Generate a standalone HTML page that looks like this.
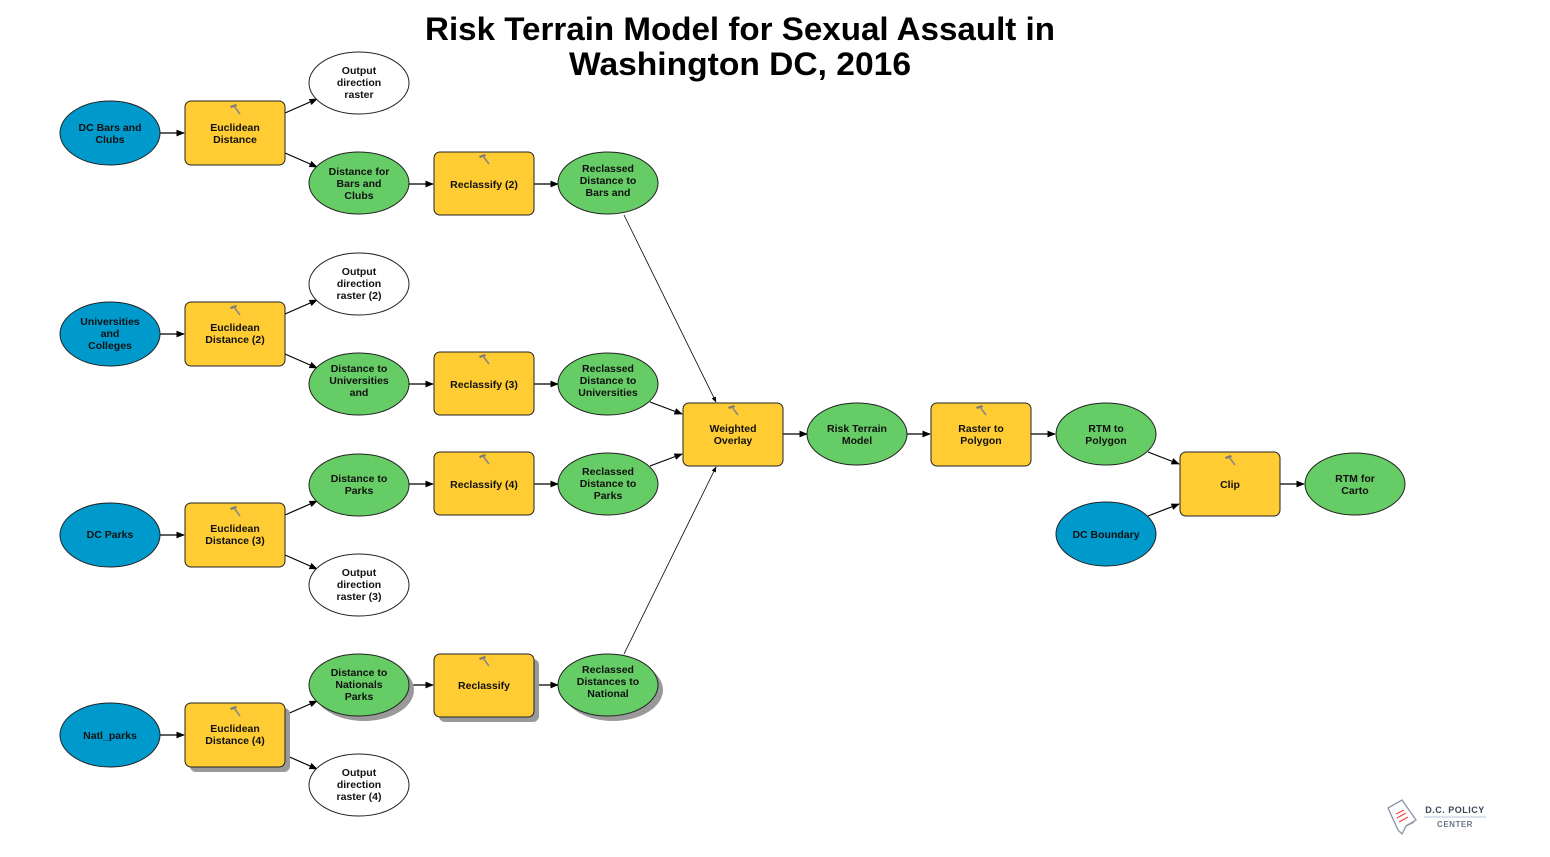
<!DOCTYPE html>
<html><head><meta charset="utf-8"><style>
html,body{margin:0;padding:0;background:#fff;}
svg{display:block;font-family:"Liberation Sans",Arial,sans-serif;}
.t{font-size:10.5px;font-weight:bold;fill:#111;text-anchor:middle;}
</style></head><body>
<svg width="1550" height="857" viewBox="0 0 1550 857" xmlns="http://www.w3.org/2000/svg">
<defs>
<marker id="a" viewBox="0 0 10 10" refX="9" refY="5" markerWidth="7" markerHeight="7" orient="auto"><path d="M0,1 L10,5 L0,9 z" fill="#000"/></marker>
<g id="ham"><path d="M-5,-4 L1,-6 L2,-4 L-4,-2 z" fill="#777"/><path d="M-1,-4 L5,4" stroke="#888" stroke-width="1.6"/></g>
</defs>
<text x="740" y="40" font-size="32" font-weight="bold" text-anchor="middle" textLength="630" lengthAdjust="spacingAndGlyphs">Risk Terrain Model for Sexual Assault in</text>
<text x="740" y="75" font-size="32" font-weight="bold" text-anchor="middle" textLength="342" lengthAdjust="spacingAndGlyphs">Washington DC, 2016</text>

<g stroke="#000" stroke-width="1.2" fill="none" marker-end="url(#a)">
<line x1="160" y1="133" x2="184" y2="133"/>
<line x1="285" y1="113" x2="317" y2="99"/>
<line x1="285" y1="153" x2="317" y2="167"/>
<line x1="409" y1="184" x2="433" y2="184"/>
<line x1="534" y1="184" x2="558" y2="184"/>
<line x1="160" y1="334" x2="184" y2="334"/>
<line x1="285" y1="314" x2="317" y2="300"/>
<line x1="285" y1="354" x2="317" y2="368"/>
<line x1="409" y1="384" x2="433" y2="384"/>
<line x1="534" y1="384" x2="558" y2="384"/>
<line x1="160" y1="535" x2="184" y2="535"/>
<line x1="285" y1="515" x2="317" y2="501"/>
<line x1="285" y1="555" x2="317" y2="569"/>
<line x1="409" y1="484" x2="433" y2="484"/>
<line x1="534" y1="484" x2="558" y2="484"/>
<line x1="160" y1="735" x2="184" y2="735"/>
<line x1="285" y1="715" x2="317" y2="701"/>
<line x1="285" y1="755" x2="317" y2="769"/>
<line x1="409" y1="685" x2="433" y2="685"/>
<line x1="534" y1="685" x2="558" y2="685"/>
<line x1="624" y1="215" x2="716" y2="402" stroke-width="0.8"/>
<line x1="650" y1="402" x2="682" y2="414"/>
<line x1="650" y1="466" x2="682" y2="454"/>
<line x1="624" y1="654" x2="716" y2="467" stroke-width="0.8"/>
<line x1="783" y1="434" x2="807" y2="434"/>
<line x1="906" y1="434" x2="930" y2="434"/>
<line x1="1031" y1="434" x2="1055" y2="434"/>
<line x1="1148" y1="452" x2="1179" y2="464"/>
<line x1="1148" y1="516" x2="1179" y2="504"/>
<line x1="1280" y1="484" x2="1304" y2="484"/>
</g>

<!-- shadows row4 -->
<g fill="#999">
<rect x="190" y="708" width="100" height="64" rx="6"/>
<ellipse cx="364" cy="690" rx="50" ry="31"/>
<rect x="439" y="659" width="100" height="63" rx="6"/>
<ellipse cx="613" cy="690" rx="50" ry="31"/>
</g>

<g stroke="#222" stroke-width="1">
<!-- blue -->
<g fill="#0099CC">
<ellipse cx="110" cy="133" rx="50" ry="32"/>
<ellipse cx="110" cy="334" rx="50" ry="32"/>
<ellipse cx="110" cy="535" rx="50" ry="32"/>
<ellipse cx="110" cy="735" rx="50" ry="32"/>
<ellipse cx="1106" cy="534" rx="50" ry="32"/>
</g>
<!-- white -->
<g fill="#fff">
<ellipse cx="359" cy="83" rx="50" ry="31"/>
<ellipse cx="359" cy="284" rx="50" ry="31"/>
<ellipse cx="359" cy="585" rx="50" ry="31"/>
<ellipse cx="359" cy="785" rx="50" ry="31"/>
</g>
<!-- green -->
<g fill="#66CC66">
<ellipse cx="359" cy="183" rx="50" ry="31"/>
<ellipse cx="608" cy="183" rx="50" ry="31"/>
<ellipse cx="359" cy="384" rx="50" ry="31"/>
<ellipse cx="608" cy="384" rx="50" ry="31"/>
<ellipse cx="359" cy="485" rx="50" ry="31"/>
<ellipse cx="608" cy="484" rx="50" ry="31"/>
<ellipse cx="359" cy="685" rx="50" ry="31"/>
<ellipse cx="608" cy="685" rx="50" ry="31"/>
<ellipse cx="857" cy="434" rx="50" ry="31"/>
<ellipse cx="1106" cy="434" rx="50" ry="31"/>
<ellipse cx="1355" cy="484" rx="50" ry="31"/>
</g>
<!-- yellow -->
<g fill="#FFCC33">
<rect x="185" y="101" width="100" height="64" rx="6"/>
<rect x="434" y="152" width="100" height="63" rx="6"/>
<rect x="185" y="302" width="100" height="64" rx="6"/>
<rect x="434" y="352" width="100" height="63" rx="6"/>
<rect x="185" y="503" width="100" height="64" rx="6"/>
<rect x="434" y="452" width="100" height="63" rx="6"/>
<rect x="185" y="703" width="100" height="64" rx="6"/>
<rect x="434" y="654" width="100" height="63" rx="6"/>
<rect x="683" y="403" width="100" height="63" rx="6"/>
<rect x="931" y="403" width="100" height="63" rx="6"/>
<rect x="1180" y="452" width="100" height="64" rx="6"/>
</g>
</g>
<g>
<use href="#ham" x="235" y="110"/><use href="#ham" x="484" y="160"/>
<use href="#ham" x="235" y="311"/><use href="#ham" x="484" y="360"/>
<use href="#ham" x="235" y="512"/><use href="#ham" x="484" y="460"/>
<use href="#ham" x="235" y="712"/><use href="#ham" x="484" y="662"/>
<use href="#ham" x="733" y="411"/><use href="#ham" x="981" y="411"/>
<use href="#ham" x="1230" y="461"/>
</g>

<g class="t">
<text x="110" y="131">DC Bars and</text><text x="110" y="143">Clubs</text>
<text x="235" y="131">Euclidean</text><text x="235" y="143">Distance</text>
<text x="359" y="74">Output</text><text x="359" y="86">direction</text><text x="359" y="98">raster</text>
<text x="359" y="175">Distance for</text><text x="359" y="187">Bars and</text><text x="359" y="199">Clubs</text>
<text x="484" y="188">Reclassify (2)</text>
<text x="608" y="172">Reclassed</text><text x="608" y="184">Distance to</text><text x="608" y="196">Bars and</text>

<text x="110" y="325">Universities</text><text x="110" y="337">and</text><text x="110" y="349">Colleges</text>
<text x="235" y="331">Euclidean</text><text x="235" y="343">Distance (2)</text>
<text x="359" y="275">Output</text><text x="359" y="287">direction</text><text x="359" y="299">raster (2)</text>
<text x="359" y="372">Distance to</text><text x="359" y="384">Universities</text><text x="359" y="396">and</text>
<text x="484" y="388">Reclassify (3)</text>
<text x="608" y="372">Reclassed</text><text x="608" y="384">Distance to</text><text x="608" y="396">Universities</text>

<text x="110" y="538">DC Parks</text>
<text x="235" y="532">Euclidean</text><text x="235" y="544">Distance (3)</text>
<text x="359" y="482">Distance to</text><text x="359" y="494">Parks</text>
<text x="359" y="576">Output</text><text x="359" y="588">direction</text><text x="359" y="600">raster (3)</text>
<text x="484" y="488">Reclassify (4)</text>
<text x="608" y="475">Reclassed</text><text x="608" y="487">Distance to</text><text x="608" y="499">Parks</text>

<text x="110" y="739">Natl_parks</text>
<text x="235" y="732">Euclidean</text><text x="235" y="744">Distance (4)</text>
<text x="359" y="676">Distance to</text><text x="359" y="688">Nationals</text><text x="359" y="700">Parks</text>
<text x="359" y="776">Output</text><text x="359" y="788">direction</text><text x="359" y="800">raster (4)</text>
<text x="484" y="689">Reclassify</text>
<text x="608" y="673">Reclassed</text><text x="608" y="685">Distances to</text><text x="608" y="697">National</text>

<text x="733" y="432">Weighted</text><text x="733" y="444">Overlay</text>
<text x="857" y="432">Risk Terrain</text><text x="857" y="444">Model</text>
<text x="981" y="432">Raster to</text><text x="981" y="444">Polygon</text>
<text x="1106" y="432">RTM to</text><text x="1106" y="444">Polygon</text>
<text x="1106" y="538">DC Boundary</text>
<text x="1230" y="488">Clip</text>
<text x="1355" y="482">RTM for</text><text x="1355" y="494">Carto</text>
</g>

<!-- logo -->
<g transform="translate(1388,800)">
<path d="M0,8 L14,0 L28,20 L18,26 L14,34 L10,30 Z" fill="#fff" stroke="#8a93a6" stroke-width="1.3"/>
<path d="M8,14 L16,10 M9,18 L18,13 M11,22 L20,17" stroke="#e44" stroke-width="1.2"/>
<path d="M18,26 L26,22" stroke="#8a93a6" stroke-width="1.3"/>
</g>
<text x="1455" y="813" font-size="9" font-weight="bold" fill="#3d4658" text-anchor="middle" letter-spacing="0.5">D.C. POLICY</text>
<line x1="1424" y1="817" x2="1486" y2="817" stroke="#b8c4d6" stroke-width="1"/>
<text x="1455" y="827" font-size="8" font-weight="bold" fill="#6c7588" text-anchor="middle" letter-spacing="0.5">CENTER</text>
</svg>
</body></html>
